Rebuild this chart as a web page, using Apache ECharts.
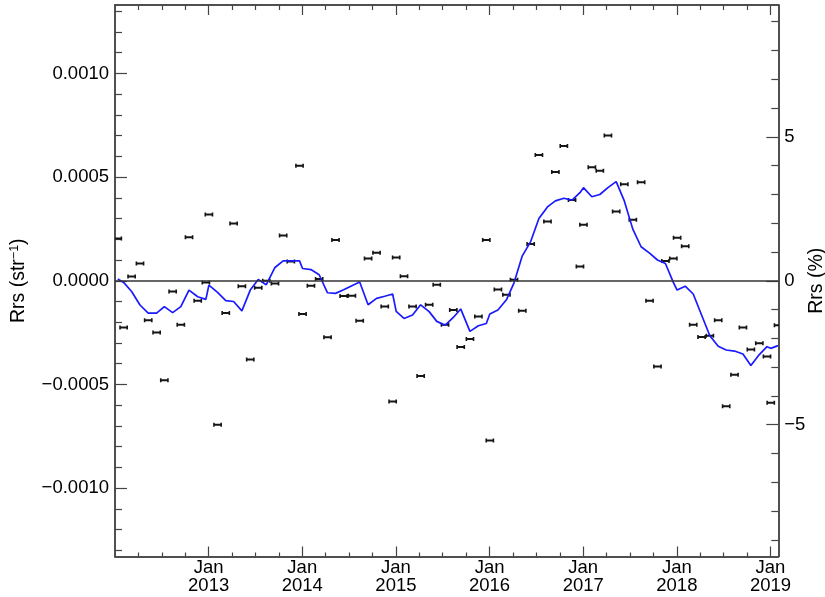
<!DOCTYPE html>
<html>
<head>
<meta charset="utf-8">
<script src="https://cdn.jsdelivr.net/npm/echarts@6/dist/echarts.min.js"></script>
<style>html,body{margin:0;padding:0;background:#fff;}#c{width:825px;height:597px;}</style>
</head>
<body>
<div id="c"></div>
<script>
// ---- data ----
const dates = [
 '2012-01-12','2012-02-04','2012-03-05','2012-04-07','2012-05-09','2012-06-11','2012-07-11','2012-08-13','2012-09-14','2012-10-16','2012-11-19','2012-12-21',
 '2013-01-02','2013-02-05','2013-03-07','2013-04-07','2013-05-09','2013-06-11','2013-07-12','2013-08-13','2013-09-16','2013-10-18','2013-11-17','2013-12-21',
 '2014-01-02','2014-02-04','2014-03-06','2014-04-08','2014-05-09','2014-06-10','2014-07-12','2014-08-12','2014-09-14','2014-10-17','2014-11-18','2014-12-19',
 '2015-01-02','2015-02-02','2015-03-05','2015-04-06','2015-05-09','2015-06-08','2015-07-10','2015-08-12','2015-09-10','2015-10-16','2015-11-18','2015-12-19',
 '2016-01-02','2016-02-03','2016-03-06','2016-04-05','2016-05-07','2016-06-09','2016-07-11','2016-08-14','2016-09-14','2016-10-17','2016-11-18','2016-12-19',
 '2017-01-02','2017-02-04','2017-03-05','2017-04-06','2017-05-08','2017-06-09','2017-07-12','2017-08-14','2017-09-16','2017-10-17','2017-11-17','2017-12-18',
 '2018-01-02','2018-02-03','2018-03-04','2018-04-06','2018-05-08','2018-06-10','2018-07-11','2018-08-13','2018-09-15','2018-10-16','2018-11-18','2018-12-18',
 '2019-01-02','2019-01-31'
];
const rrsAnomaly = [
 0.000204,-0.000225,0.000020,0.000083,-0.000190,-0.000250,-0.000480,-0.000052,-0.000212,0.000210,-0.000096,-0.000008,
 0.000320,-0.000695,-0.000156,0.000276,-0.000026,-0.000380,-0.000034,0.000000,-0.000013,0.000218,0.000093,0.000555,
 -0.000160,-0.000024,0.000008,-0.000273,0.000196,-0.000074,-0.000072,-0.000193,0.000107,0.000135,-0.000124,-0.000583,
 0.000112,0.000022,-0.000124,-0.000459,-0.000116,-0.000019,-0.000212,-0.000141,-0.000320,-0.000281,-0.000173,0.000196,
 -0.000770,-0.000042,-0.000067,0.000005,-0.000145,0.000177,0.000607,0.000286,0.000524,0.000650,0.000389,0.000069,
 0.000270,0.000548,0.000530,0.000700,0.000334,0.000466,0.000294,0.000475,-0.000096,-0.000413,0.000095,0.000107,
 0.000207,0.000167,-0.000212,-0.000271,-0.000265,-0.000191,-0.000605,-0.000453,-0.000225,-0.000332,-0.000302,-0.000365,
 -0.000589,-0.000215
];
const runningMean = [
 0.000008,-0.000008,-0.000052,-0.000117,-0.000156,-0.000156,-0.000125,-0.000154,-0.000125,-0.000045,-0.000077,-0.000090,
 -0.000021,-0.000056,-0.000096,-0.000100,-0.000145,-0.000045,0.000006,-0.000019,0.000064,0.000096,0.000096,0.000096,
 0.000059,0.000054,0.000029,-0.000058,-0.000061,-0.000043,-0.000024,-0.000006,-0.000116,-0.000085,-0.000075,-0.000064,
 -0.000148,-0.000182,-0.000165,-0.000116,-0.000149,-0.000196,-0.000215,-0.000177,-0.000136,-0.000244,-0.000217,-0.000206,
 -0.000160,-0.000141,-0.000092,-0.000010,0.000120,0.000189,0.000300,0.000356,0.000385,0.000398,0.000389,0.000425,
 0.000449,0.000405,0.000416,0.000449,0.000478,0.000385,0.000249,0.000164,0.000133,0.000100,0.000083,-0.000008,
 -0.000045,-0.000026,-0.000064,-0.000165,-0.000265,-0.000316,-0.000334,-0.000339,-0.000353,-0.000409,-0.000356,-0.000318,
 -0.000326,-0.000313
];
const yearLabels = [2013,2014,2015,2016,2017,2018,2019];
const leftTicks = [-0.0010,-0.0005,0,0.0005,0.0010];
const rightTicks = [-5,0,5];
const leftName = 'Rrs (str{sup|−1})';
const rightName = 'Rrs (%)';

// ---- helpers ----
const startYear = 2012;
function monthIndex(s){
  const p = s.split('-').map(Number);
  const dim = new Date(Date.UTC(p[0], p[1], 0)).getUTCDate();
  return (p[0]-startYear)*12 + (p[1]-1) + (p[2]-1)/dim;
}
const xs = dates.map(monthIndex);
const scatterData = xs.map((x,i)=>[x, rrsAnomaly[i]]);
const lineData = xs.map((x,i)=>[x, runningMean[i]]);

const xMin = 0, xMax = 85;
const yRange = 0.00133, pRange = 9.575;
const majorX = yearLabels.map(y => (y-startYear)*12);
const minorX = []; for (let m=3; m<xMax; m+=3) if (m%12) minorX.push(m);
const minorL = []; for (let k=-13;k<=13;k++) if (k%5) minorL.push(k/10000);
const minorR = []; for (let k=-9;k<=9;k++) if (k%5) minorR.push(k);

const FONT = "'Liberation Sans', Arial, Helvetica, sans-serif";
const axCol = '#444';
const minusFmt = (s)=> s.replace('-', '−');

function xAx(pos, ticks, len, labels){
  return {
    type:'value', position:pos, min:xMin, max:xMax,
    axisLine:{show:true, onZero:false, lineStyle:{color:axCol, width:1.5}},
    axisTick:{show:true, inside:true, length:len, customValues:ticks, lineStyle:{color:axCol, width:1.2}},
    axisLabel:labels ? {show:true, customValues:majorX, margin:3, fontFamily:FONT, fontSize:18.5, lineHeight:17.5, color:'#000',
      formatter:(v)=>'Jan\n'+(startYear+Math.round(v/12))} : {show:false},
    splitLine:{show:false}
  };
}
function yAx(pos, mn, mx, ticks, len, labelVals, fmt, name, gap){
  const a = {
    type:'value', position:pos, min:mn, max:mx,
    axisLine:{show:true, onZero:false, lineStyle:{color:axCol, width:1.5}},
    axisTick:{show:true, inside:true, length:len, customValues:ticks, lineStyle:{color:axCol, width:1.2}},
    axisLabel:labelVals ? {show:true, customValues:labelVals, margin:6, fontFamily:FONT, fontSize:18.5, color:'#000', formatter:fmt} : {show:false},
    splitLine:{show:false}
  };
  if (name){
    a.name = name; a.nameLocation='middle'; a.nameRotate=90; a.nameGap=gap; a.nameMoveOverlap=false;
    a.nameTextStyle = {fontFamily:FONT, fontSize:19.5, color:'#000',
      rich:{sup:{fontFamily:FONT, fontSize:12.5, color:'#000', verticalAlign:'top', padding:[0,0,8,0]}}};
  }
  return a;
}

const chart = echarts.init(document.getElementById('c'), null, {renderer:'canvas'});
chart.setOption({
  animation:false,
  backgroundColor:'#fff',
  grid:{left:115, right:46.7, top:5, bottom:40.5, containLabel:false, outerBoundsMode:'none'},
  xAxis:[
    xAx('bottom', majorX, 10, true),
    xAx('bottom', minorX, 4, false),
    xAx('top', majorX, 10, false),
    xAx('top', minorX, 5, false)
  ],
  yAxis:[
    yAx('left', -yRange, yRange, leftTicks, 12, leftTicks,
        (v)=> v===0 ? '0.0000' : minusFmt(v.toFixed(4)), leftName, 86),
    yAx('left', -yRange, yRange, minorL, 7, null),
    yAx('right', -pRange, pRange, rightTicks, 12, rightTicks, (v)=>minusFmt(String(v)), rightName, 28),
    yAx('right', -pRange, pRange, minorR, 7, null)
  ],
  series:[
    {
      type:'custom', name:'Rrs anomaly', xAxisIndex:0, yAxisIndex:0, clip:true, z:3,
      data:scatterData,
      renderItem:function(params, api){
        const p = api.coord([api.value(0), api.value(1)]);
        const w = 3.6, h = 2, st = {stroke:'#151515', lineWidth:1.6}, stb = {stroke:'#151515', lineWidth:2};
        return {type:'group', children:[
          {type:'line', shape:{x1:p[0]-w, y1:p[1], x2:p[0]+w, y2:p[1]}, style:stb},
          {type:'line', shape:{x1:p[0]-w, y1:p[1]-h, x2:p[0]-w, y2:p[1]+h}, style:st},
          {type:'line', shape:{x1:p[0]+w, y1:p[1]-h, x2:p[0]+w, y2:p[1]+h}, style:st}
        ]};
      }
    },
    {
      type:'line', name:'Running mean', xAxisIndex:0, yAxisIndex:0, z:4,
      data:lineData, showSymbol:false, symbol:'none',
      lineStyle:{color:'#1a1aff', width:1.7},
      markLine:{silent:true, symbol:'none', label:{show:false},
        lineStyle:{color:'#333', width:1.5, type:'solid'}, data:[{yAxis:0}]}
    }
  ]
});
</script>
</body>
</html>
